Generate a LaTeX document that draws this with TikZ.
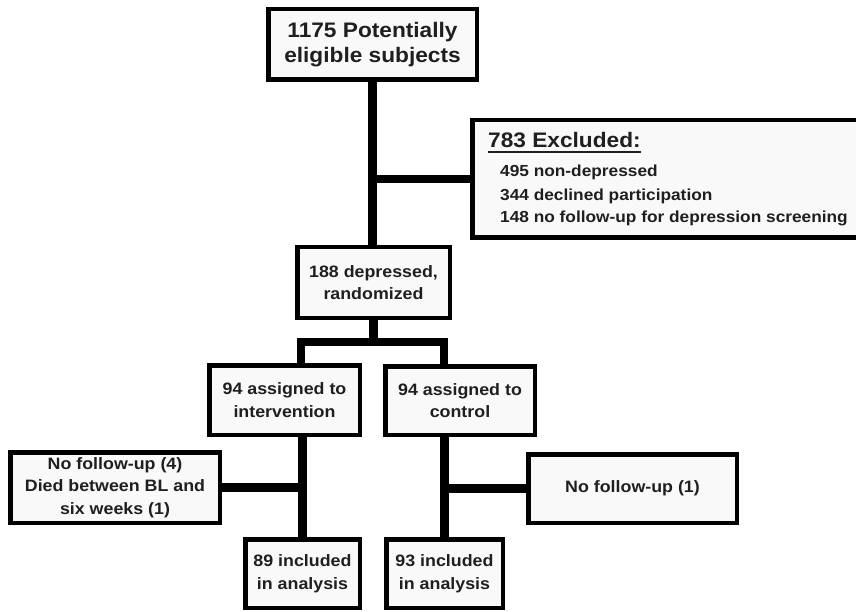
\documentclass[tikz,border=0pt]{standalone}
\usepackage{fontspec}
\setmainfont{Liberation Sans}[FakeStretch=1.08]
\usetikzlibrary{shadows}

\definecolor{boxfill}{gray}{0.975}
\definecolor{inkgray}{gray}{0.12}

\tikzset{
	flowbox/.style = {draw = black, line width = 4.5, fill = boxfill, text = inkgray,
		align = center, inner sep = 2pt,
		font = \bfseries\fontsize{16.5}{22.5}\selectfont,
		drop shadow = {shadow xshift = 2pt, shadow yshift = -2pt, opacity = .3}},
	flowline/.style = {line width = 8.5, line join = miter},
	listtext/.style = {anchor = base west, inner sep = 0, text = inkgray,
		font = \bfseries\fontsize{16}{18}\selectfont}
}

\begin{document}
\begin{tikzpicture}[x = 1pt, y = -1pt]

	% Frame of the picture

	\useasboundingbox (0, 0) rectangle (856, 612);

	% Boxes

	\node [flowbox, minimum width = 208.5, minimum height = 70.5,
		font = \bfseries\fontsize{21}{25}\selectfont] (top) at (372.5, 44.5) {1175 Potentially\\eligible subjects};
	\node [flowbox, minimum width = 405, minimum height = 117.5] (excl) at (675, 179) {};
	\node [flowbox, minimum width = 152.5, minimum height = 70.5] (rand) at (373.5, 282.5) {188 depressed,\\randomized};
	\node [flowbox, minimum width = 150.5, minimum height = 69.5] (int) at (284.5, 400) {94 assigned to\\intervention};
	\node [flowbox, minimum width = 149.5, minimum height = 68.5] (ctl) at (460, 400.5) {94 assigned to\\control};
	\node [flowbox, minimum width = 209.5, minimum height = 70.5] (lost1) at (115, 487.5) {No follow-up (4)\\Died between BL and\\six weeks (1)};
	\node [flowbox, minimum width = 208.5, minimum height = 68.5] (lost2) at (632.5, 488.5) {No follow-up (1)};
	\node [flowbox, minimum width = 114.5, minimum height = 68.5] (inc1) at (302.5, 573.5) {89 included\\in analysis};
	\node [flowbox, minimum width = 116.5, minimum height = 68.5] (inc2) at (444.5, 573.5) {93 included\\in analysis};

	% Contents of the exclusion box

	\node [listtext, font = \bfseries\fontsize{21}{25}\selectfont] (exhead) at (488, 148) {783 Excluded:};
	\draw [line width = 2, inkgray] ([yshift = -4.5pt] exhead.base west) -- ([yshift = -4.5pt] exhead.base east);
	\node [listtext] (exnondep) at (500, 177) {495 non-depressed};
	\node [listtext] (exdecl) at (500, 201) {344 declined participation};
	\node [listtext] (exnofu) at (500, 223) {148 no follow-up for depression screening};

	% Main stem with the exclusion branch

	\draw [flowline] (top.south) -- (top.south |- rand.north);
	\coordinate (exsplit) at (top.south |- excl.west);
	\draw [flowline] (exsplit) -- (excl.west);

	% Randomisation into two arms

	\coordinate (armL) at (301, 342);
	\coordinate (armR) at (444, 342);
	\draw [flowline] (rand.south) -- (rand.south |- armL);
	\draw [flowline] (armL |- int.north) -- (armL) -- (armR) -- (armR |- ctl.north);

	% Follow-up of each arm

	\draw [flowline] (inc1.north |- int.south) -- (inc1.north);
	\draw [flowline] (lost1.east) -- (lost1.east -| inc1.north);
	\draw [flowline] (inc2.north |- ctl.south) -- (inc2.north);
	\draw [flowline] (lost2.west) -- (lost2.west -| inc2.north);

\end{tikzpicture}
\end{document}
